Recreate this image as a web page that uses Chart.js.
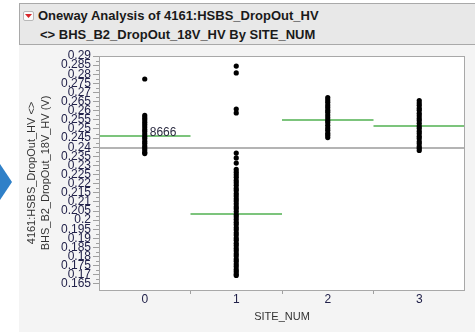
<!DOCTYPE html>
<html>
<head>
<meta charset="utf-8">
<script src="https://cdn.jsdelivr.net/npm/chart.js@4.4.1/dist/chart.umd.min.js"></script>
<style>
  html, body { margin: 0; padding: 0; background: #ffffff; }
  #wrap { position: relative; width: 475px; height: 332px; overflow: hidden; }
  #panel { position: absolute; left: 19px; top: 3px; right: 0; bottom: 0; background: #f4f4f4; }
  #head { position: absolute; left: 19px; top: 3px; width: 470px; height: 40px; background: #e8e8e8;
          border: 1px solid #a9a9a9; font: bold 13px "Liberation Sans", Arial, sans-serif; color: #1a1a1a; }
  #head .l1 { position: absolute; left: 18px; top: 4px; white-space: nowrap; }
  #head .l2 { position: absolute; left: 20px; top: 23px; white-space: nowrap; }
  #btn { position: absolute; left: 3px; top: 7px; width: 9px; height: 8px; background: #fbfbfb;
         border: 1px solid #b8b8b8; border-radius: 2px; }
  #btn::after { content: ""; position: absolute; left: 1px; top: 2px; width: 7px; height: 4px; background: #d8262a;
                clip-path: polygon(0 0, 100% 0, 50% 100%); }
  #arrow { position: absolute; left: 0; top: 164px; width: 12px; height: 36px; background: #2f80c8;
           clip-path: polygon(0 0, 100% 50%, 0 100%); }
  #box { position: absolute; left: 0; top: 0; width: 475px; height: 332px; }
</style>
</head>
<body>
<div id="wrap">
  <div id="panel"></div>
  <div id="head">
    <div id="btn"></div>
    <div class="l1">Oneway Analysis of 4161:HSBS_DropOut_HV</div>
    <div class="l2">&lt;&gt; BHS_B2_DropOut_18V_HV By SITE_NUM</div>
  </div>
  <div id="arrow"></div>
  <div id="box"><canvas id="c"></canvas></div>
</div>
<script>
// SITE_NUM groups
const siteCats = [0, 1, 2, 3];

// Measured drop-out voltage per site (V)
const site0 = [0.2774, 0.2574, 0.2562, 0.2551, 0.2537, 0.2524, 0.2511, 0.2497, 0.2486, 0.2472,
               0.2458, 0.2447, 0.2433, 0.2421, 0.2407, 0.2396, 0.2384, 0.2372, 0.2365];
const site1 = [0.2845, 0.2807, 0.2609, 0.2588, 0.2368, 0.2341, 0.2313, 0.2278, 0.2263, 0.2249,
               0.2235, 0.2218, 0.2205, 0.2191, 0.2174, 0.2162, 0.2146, 0.2133, 0.2117, 0.2105,
               0.2090, 0.2074, 0.2062, 0.2047, 0.2031, 0.2019, 0.2004, 0.1988, 0.1976, 0.1959,
               0.1947, 0.1931, 0.1918, 0.1902, 0.1890, 0.1873, 0.1861, 0.1845, 0.1832, 0.1816,
               0.1804, 0.1787, 0.1775, 0.1759, 0.1746, 0.1730, 0.1718, 0.1705, 0.1697];
const site2 = [0.2672, 0.2659, 0.2646, 0.2631, 0.2618, 0.2603, 0.2591, 0.2576, 0.2562, 0.2547,
               0.2535, 0.2520, 0.2505, 0.2493, 0.2477, 0.2466, 0.2453];
const site3 = [0.2656, 0.2642, 0.2630, 0.2614, 0.2602, 0.2586, 0.2573, 0.2558, 0.2546, 0.2531,
               0.2516, 0.2504, 0.2488, 0.2475, 0.2460, 0.2448, 0.2431, 0.2420, 0.2404, 0.2394, 0.2382];

// Group means and grand mean
const siteMeans = [0.2461, 0.2034, 0.2549, 0.2516];
const grandMean = 0.2396;
const meanNote = '8666';

// Axis ticks
const yTicks = [0.165, 0.17, 0.175, 0.18, 0.185, 0.19, 0.195, 0.2, 0.205, 0.21, 0.215, 0.22, 0.225,
                0.23, 0.235, 0.24, 0.245, 0.25, 0.255, 0.26, 0.265, 0.27, 0.275, 0.28, 0.285, 0.29];
const yMin = 0.1617, yMax = 0.29;

const FONT = '"Liberation Sans", Arial, sans-serif';
const sites = [site0, site1, site2, site3];

const datasets = [];
// points first so they stay on top
sites.forEach((vals, i) => {
  datasets.push({
    type: 'scatter',
    data: vals.map(v => ({ x: siteCats[i], y: v })),
    backgroundColor: '#000000',
    borderWidth: 0,
    pointRadius: 2.6,
    pointHoverRadius: 2.6,
    order: 0
  });
});
siteMeans.forEach((m, i) => {
  datasets.push({
    type: 'line',
    data: [{ x: siteCats[i] - 0.5, y: m }, { x: siteCats[i] + 0.5, y: m }],
    borderColor: '#7cc47c',
    borderWidth: 2,
    pointRadius: 0,
    order: 1
  });
});
datasets.push({
  type: 'line',
  data: [{ x: -0.5, y: grandMean }, { x: 3.5, y: grandMean }],
  borderColor: '#b4b4b4',
  borderWidth: 2,
  pointRadius: 0,
  order: 2
});

const frame = {
  id: 'frame',
  beforeDraw(chart) {
    const { ctx, chartArea: a } = chart;
    ctx.save();
    ctx.fillStyle = '#ffffff';
    ctx.fillRect(a.left, a.top, a.right - a.left, a.bottom - a.top);
    ctx.restore();
  },
  afterDraw(chart) {
    const { ctx, chartArea: a, scales } = chart;
    ctx.save();
    ctx.strokeStyle = '#a8a8a8';
    ctx.lineWidth = 1;
    ctx.strokeRect(a.left + 0.5, a.top + 0.5, a.right - a.left - 1, a.bottom - a.top);
    // minor y ticks
    ctx.strokeStyle = '#a0a0a0';
    ctx.beginPath();
    for (let i = 0; i < yTicks.length - 1; i++) {
      const v = (yTicks[i] + yTicks[i + 1]) / 2;
      const y = Math.round(scales.y.getPixelForValue(v)) + 0.5;
      ctx.moveTo(a.left - 3, y);
      ctx.lineTo(a.left, y);
    }
    ctx.stroke();
    // mean note
    ctx.fillStyle = '#2a2a40';
    ctx.font = '12px ' + FONT;
    ctx.textBaseline = 'middle';
    ctx.fillText(meanNote, scales.x.getPixelForValue(siteCats[0]) + 5,
                 scales.y.getPixelForValue(siteMeans[0]) - 3);
    ctx.restore();
  }
};

new Chart(document.getElementById('c'), {
  data: { datasets },
  options: {
    responsive: true,
    maintainAspectRatio: false,
    animation: false,
    layout: { padding: { top: 56, right: 10, left: 0, bottom: 0 } },
    plugins: { legend: { display: false }, tooltip: { enabled: false } },
    scales: {
      x: {
        type: 'linear',
        min: -0.5,
        max: 3.5,
        afterBuildTicks(s) {
          const t = [];
          siteCats.forEach(c => { t.push({ value: c - 0.5 }); t.push({ value: c }); });
          t.push({ value: siteCats[siteCats.length - 1] + 0.5 });
          s.ticks = t;
        },
        afterFit(s) { s.height = 42; },
        border: { display: false },
        grid: {
          drawOnChartArea: false,
          tickLength: 4,
          tickColor: ctx => {
            const v = ctx.tick ? ctx.tick.value : 0;
            return (Number.isInteger(v) || v < 0 || v > 3) ? 'rgba(0,0,0,0)' : '#a0a0a0';
          }
        },
        ticks: {
          autoSkip: false,
          maxRotation: 0,
          padding: -2,
          color: '#22224a',
          font: { family: FONT, size: 12 },
          callback: v => Number.isInteger(v) ? String(v) : ''
        },
        title: {
          display: true,
          text: 'SITE_NUM',
          color: '#333333',
          font: { family: FONT, size: 11 },
          padding: { top: 0, bottom: 8 }
        }
      },
      y: {
        type: 'linear',
        min: yMin,
        max: yMax,
        afterBuildTicks(s) { s.ticks = yTicks.map(v => ({ value: v })); },
        afterFit(s) { s.width = 99; },
        border: { display: false },
        grid: { drawOnChartArea: false, tickLength: 6, tickColor: '#a0a0a0' },
        ticks: {
          autoSkip: false,
          padding: 2,
          color: '#22224a',
          font: { family: FONT, size: 12 },
          callback: v => String(+v.toFixed(3))
        },
        title: {
          display: true,
          text: ['4161:HSBS_DropOut_HV <>', 'BHS_B2_DropOut_18V_HV (V)'],
          color: '#333333',
          font: { family: FONT, size: 11, lineHeight: 1.36 },
          padding: { top: 24, bottom: 0 }
        }
      }
    }
  },
  plugins: [frame]
});
</script>
</body>
</html>
